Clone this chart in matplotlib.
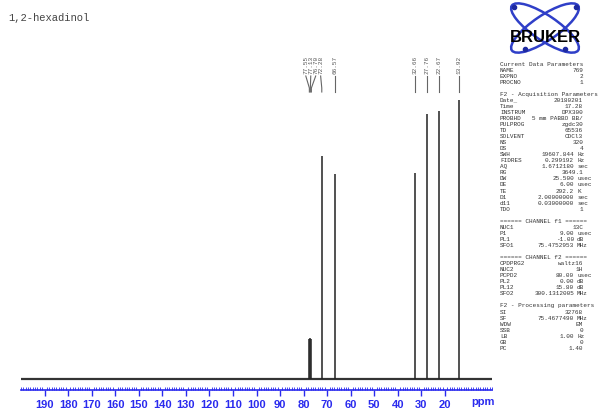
import numpy as np
import matplotlib.pyplot as plt
from matplotlib.patches import Ellipse

title = '1,2-hexadinol'
peak_ppm = [77.55, 77.13, 76.70, 72.28, 66.57, 32.66, 27.76, 22.67, 13.92]
peak_height = [40, 41, 40, 223, 205, 206, 265, 268, 279]
tick_ppm = [190, 180, 170, 160, 150, 140, 130, 120, 110, 100, 90, 80, 70, 60, 50, 40, 30, 20]

params = [
    ('Current Data Parameters', None, None),
    ('NAME', '769', None), ('EXPNO', '2', None), ('PROCNO', '1', None),
    ('', None, None),
    ('F2 - Acquisition Parameters', None, None),
    ('Date_', '20180201', None), ('Time', '17.28', None), ('INSTRUM', 'DPX300', None),
    ('PROBHD', '5 mm PABBO BB/', None), ('PULPROG', 'zgdc30', None), ('TD', '65536', None),
    ('SOLVENT', 'CDCl3', None), ('NS', '320', None), ('DS', '4', None),
    ('SWH', '19607.844', 'Hz'), ('FIDRES', '0.299192', 'Hz'), ('AQ', '1.6712180', 'sec'),
    ('RG', '3649.1', None), ('DW', '25.500', 'usec'), ('DE', '6.00', 'usec'),
    ('TE', '292.2', 'K'), ('D1', '2.00000000', 'sec'), ('d11', '0.03000000', 'sec'),
    ('TDO', '1', None),
    ('', None, None),
    ('====== CHANNEL f1 ======', None, None),
    ('NUC1', '13C', None), ('P1', '9.00', 'usec'), ('PL1', '-1.00', 'dB'),
    ('SFO1', '75.4752953', 'MHz'),
    ('', None, None),
    ('====== CHANNEL f2 ======', None, None),
    ('CPDPRG2', 'waltz16', None), ('NUC2', '1H', None), ('PCPD2', '80.00', 'usec'),
    ('PL2', '0.00', 'dB'), ('PL12', '15.80', 'dB'), ('SFO2', '300.1312005', 'MHz'),
    ('', None, None),
    ('F2 - Processing parameters', None, None),
    ('SI', '32768', None), ('SF', '75.4677490', 'MHz'), ('WDW', 'EM', None),
    ('SSB', '0', None), ('LB', '1.00', 'Hz'), ('GB', '0', None), ('PC', '1.40', None),
]

W, H = 600, 417
fig = plt.figure(figsize=(6, 4.17), dpi=100)
blue = '#2a2aee'
mono = 'Liberation Mono'

# spectrum axes, y in pixel units above the baseline (baseline at y=379 px)
ax = fig.add_axes([21 / W, (H - 390) / H, (492 - 21) / W, (390 - 40) / H])
ax.set_xlim(200, 0)
ax.set_ylim(-11, 339)
ax.plot([200, 0], [0, 0], color='#333333', lw=1.6)
ax.vlines(peak_ppm, 0, peak_height, color='#222222', lw=1.1)
for s in ['top', 'left', 'right']:
    ax.spines[s].set_visible(False)
ax.spines['bottom'].set_color(blue)
ax.spines['bottom'].set_linewidth(1.2)
ax.set_yticks([])
ax.set_xticks(tick_ppm)
ax.set_xticks(np.arange(0, 201, 1), minor=True)
ax.set_xticklabels([str(t) for t in tick_ppm])
ax.tick_params(axis='x', which='major', direction='out', length=4, width=1, color=blue,
               labelcolor=blue, labelsize=8, pad=3)
ax.tick_params(axis='x', which='minor', direction='in', length=2, width=0.6, color=blue)
for lab in ax.get_xticklabels():
    lab.set_fontweight('bold')
    lab.set_family('Liberation Sans')
ax.text(483 / W, (H - 402) / H, 'ppm', transform=fig.transFigure, color=blue,
        fontsize=8, fontweight='bold', family='Liberation Sans', ha='center', va='center')

# peak labels: spread close peaks around their group centre
gap = 2.1
groups = []
for p in peak_ppm:
    if groups and groups[-1][-1] - p < gap * 2.2:
        groups[-1].append(p)
    else:
        groups.append([p])
lab_ppm = []
for g in groups:
    c = np.mean(g)
    n = len(g)
    lab_ppm += [c + gap * ((n - 1) / 2 - i) for i in range(n)]

def y_data(px):
    return 379 - px

for p, lp in zip(peak_ppm, lab_ppm):
    ax.text(lp, y_data(74), f'{p:.2f}', rotation=90, ha='center', va='bottom',
            fontsize=4.3, family=mono, color='#555555')
    ax.plot([lp, p, p], [y_data(76), y_data(88), y_data(92)], color='#666666', lw=0.8,
            clip_on=False)

# title
fig.text(8 / W, 1 - 18 / H, title, fontsize=7.6, family=mono, color='#444444',
         ha='left', va='center')

# Bruker logo
lax = fig.add_axes([498 / W, 1 - 55 / H, 94 / W, 52 / H])
lax.set_xlim(0, 94)
lax.set_ylim(0, 52)
lax.axis('off')
for ang in [34, -34]:
    lax.add_patch(Ellipse((47, 27), 80, 25, angle=ang, fill=False, ec='#2f3fc8', lw=1.8,
                          clip_on=False))
for (ex, ey) in [(16, 48), (78, 48), (27, 6), (67, 6)]:
    lax.plot(ex, ey, 'o', color='#1e2aa0', ms=3, clip_on=False)
lax.text(47, 18, 'BRUKER', ha='center', va='center', fontsize=12, fontweight='bold',
         family='Liberation Sans', color='black')

# parameter block
y0 = 64
dy = 6.05
for i, (lab, val, unit) in enumerate(params):
    y = 1 - (y0 + i * dy) / H
    kw = dict(fontsize=4.3, family=mono, color='#333333', va='center')
    if lab:
        fig.text(500 / W, y, lab, ha='left', **kw)
    if val is not None:
        if unit:
            fig.text(574 / W, y, val, ha='right', **kw)
            fig.text(577 / W, y, unit, ha='left', **kw)
        else:
            fig.text(583 / W, y, val, ha='right', **kw)

fig.savefig('out.png', dpi=100)
